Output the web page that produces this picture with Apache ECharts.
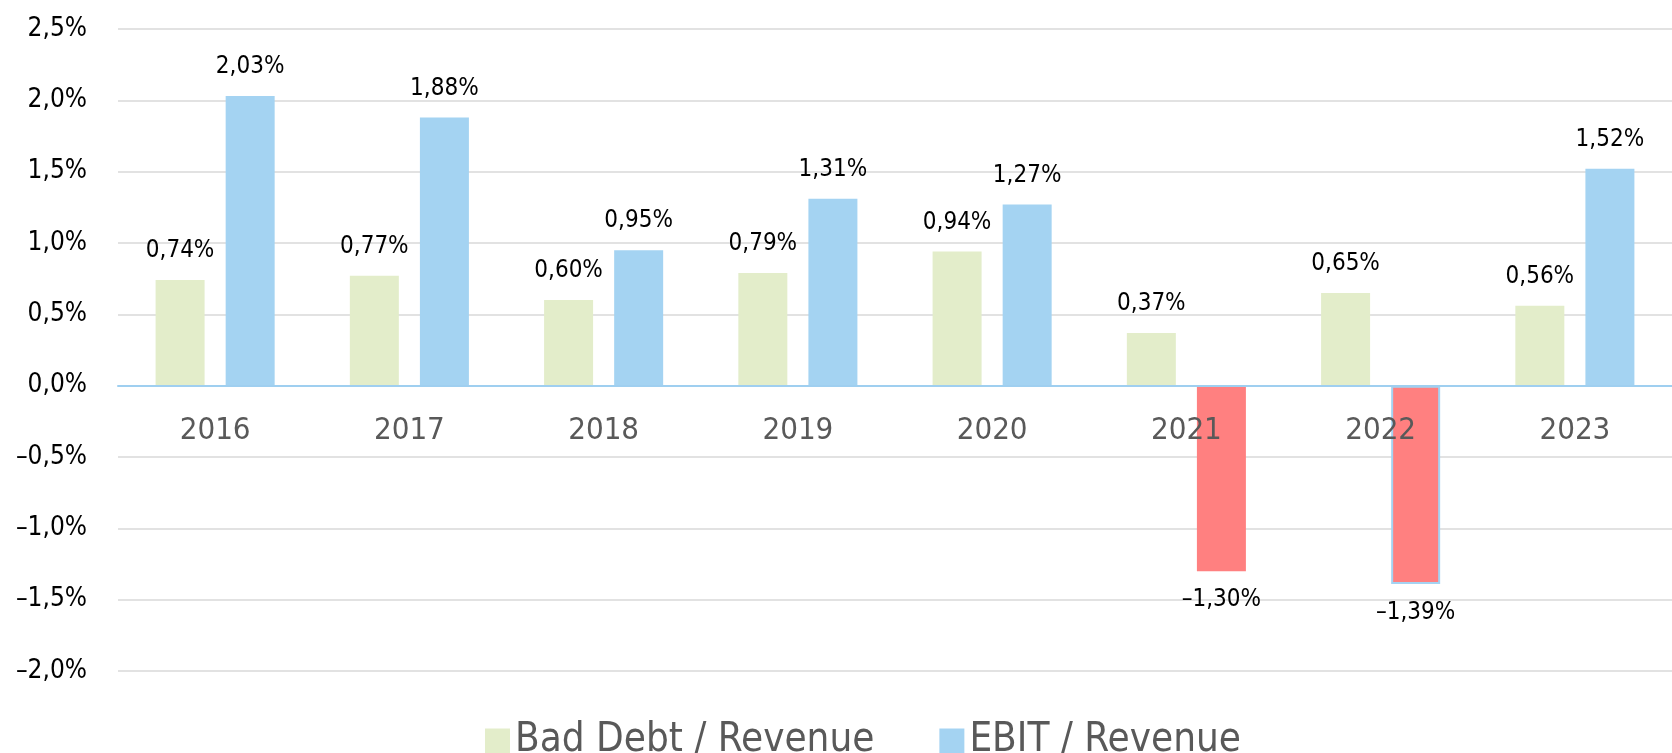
<!DOCTYPE html>
<html>
<head>
<meta charset="utf-8">
<script src="https://cdn.jsdelivr.net/npm/echarts@6/dist/echarts.min.js"></script>
<style>
  html, body { margin: 0; padding: 0; background: #fff; }
  #chart { width: 1672px; height: 753px; }
</style>
</head>
<body>
<div id="chart"></div>
<script>
const years = ['2016', '2017', '2018', '2019', '2020', '2021', '2022', '2023']
const badDebt = [0.74, 0.77, 0.60, 0.79, 0.94, 0.37, 0.65, 0.56]
const ebit = [2.03, 1.88, 0.95, 1.31, 1.27, -1.30, -1.39, 1.52]
const seriesNames = ['Bad Debt / Revenue', 'EBIT / Revenue']

const font = '"DejaVu Sans Condensed", "DejaVu Sans", sans-serif'
const green = '#e3edca'
const blue = '#a4d3f2'
const red = '#ff8080'

function pct(value, digits) {
  const text = Math.abs(value).toFixed(digits).replace('.', ',') + '%'
  return value < 0 ? '\u2013' + text : text
}

const labelStyle = {
  show: true,
  position: 'top',
  distance: 17,
  color: '#000',
  fontFamily: font,
  fontSize: 24,
  formatter: (p) => pct(p.value, 2),
}

const chart = echarts.init(document.getElementById('chart'))
chart.setOption({
  animation: false,
  grid: {
    left: 118,
    top: 29,
    width: 1571,
    height: 642,
  },
  legend: {
    left: 480,
    top: 716,
    icon: 'rect',
    itemWidth: 25,
    itemHeight: 25,
    itemGap: 65,
    textStyle: {
      color: '#595959',
      fontFamily: font,
      fontSize: 40,
    },
    data: seriesNames,
  },
  xAxis: {
    type: 'category',
    data: years,
    z: 10,
    axisLine: { onZero: false, lineStyle: { color: '#9fcff0', width: 2 } },
    axisTick: { show: false },
    axisLabel: {
      margin: 30,
      color: '#595959',
      fontFamily: font,
      fontSize: 31,
    },
  },
  yAxis: {
    type: 'value',
    min: -2,
    max: 2.5,
    interval: 0.5,
    axisLine: { show: false },
    axisTick: { show: false },
    splitLine: { lineStyle: { color: '#d9d9d9', width: 1.5 } },
    axisLabel: {
      margin: 31,
      color: '#000',
      fontFamily: font,
      fontSize: 26,
      formatter: (v) => pct(v, 1),
    },
  },
  series: [
    {
      name: seriesNames[0],
      type: 'bar',
      barWidth: 49,
      barGap: '43%',
      itemStyle: { color: green },
      label: labelStyle,
      data: badDebt,
    },
    {
      name: seriesNames[1],
      type: 'bar',
      barWidth: 49,
      itemStyle: { color: blue },
      label: labelStyle,
      data: ebit.map((value, index) => {
        if (value >= 0) {
          return value
        }
        const item = {
          value: value,
          itemStyle: { color: red },
          label: { position: 'bottom' },
        }
        if (years[index] === '2022') {
          item.itemStyle.borderColor = blue
          item.itemStyle.borderWidth = 2
        }
        return item
      }),
    },
  ],
})

// move the category axis (line and labels) up to the zero line
const zeroY = chart.convertToPixel({ yAxisIndex: 0 }, 0)
const bottomY = chart.convertToPixel({ yAxisIndex: 0 }, -2)
chart.setOption({ xAxis: { offset: zeroY - bottomY } })
</script>
</body>
</html>
